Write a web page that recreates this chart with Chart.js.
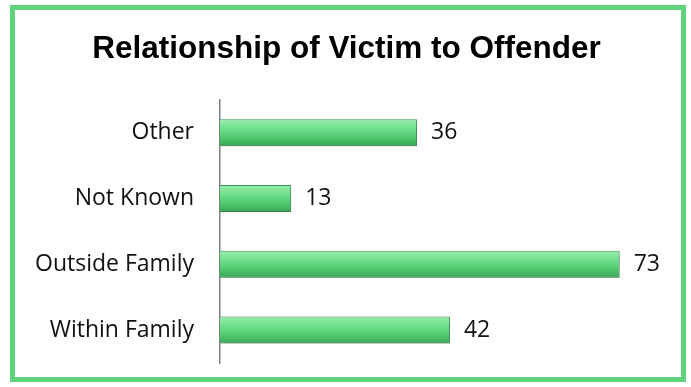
<!DOCTYPE html>
<html>
<head>
<meta charset="utf-8">
<script src="https://cdn.jsdelivr.net/npm/chart.js@4"></script>
<style>
  html, body { margin: 0; padding: 0; background: #fff; }
  #box {
    position: absolute; left: 10px; top: 5px;
    width: 666px; height: 367px;
    border: 5px solid #62d37d;
  }
</style>
</head>
<body>
<div id="box"><canvas id="chart"></canvas></div>
<script>
const categories = ["Other", "Not Known", "Outside Family", "Within Family"];
const counts = [36, 13, 73, 42];

// gradient for each bar, built from the bar's own band on the y scale
function barFill(context) {
    const chart = context.chart;
    const y = chart.scales && chart.scales.y;
    if (!y || context.dataIndex === undefined) return "#5ccf78";
    const c = y.getPixelForValue(context.dataIndex);
    if (!isFinite(c)) return "#5ccf78";
    const half = 13.5;
    const g = chart.ctx.createLinearGradient(0, c - half, 0, c + half);
    g.addColorStop(0, "#9aedae");
    g.addColorStop(0.3, "#74e290");
    g.addColorStop(0.65, "#52cc72");
    g.addColorStop(1, "#38a553");
    return g;
}

const valueLabels = {
    id: "valueLabels",
    afterDatasetsDraw(chart) {
        const ctx = chart.ctx;
        const meta = chart.getDatasetMeta(0);
        ctx.save();
        ctx.font = "23px 'Open Sans'";
        ctx.fillStyle = "#111";
        ctx.textBaseline = "middle";
        ctx.textAlign = "left";
        meta.data.forEach(function (bar, i) {
            ctx.fillText(String(counts[i]), bar.x + 14, bar.y);
        });
        ctx.restore();
    }
};

const barShadow = {
    id: "barShadow",
    beforeDatasetsDraw(chart) {
        chart.ctx.save();
        chart.ctx.shadowColor = "rgba(0,0,0,0.25)";
        chart.ctx.shadowBlur = 4;
        chart.ctx.shadowOffsetY = 2;
        chart.ctx.shadowOffsetX = 1;
    },
    afterDatasetsDraw(chart) {
        chart.ctx.restore();
    }
};

new Chart(document.getElementById("chart"), {
    type: "bar",
    data: {
        labels: categories,
        datasets: [{
            data: counts,
            backgroundColor: barFill,
            borderColor: "#3b9c55",
            borderWidth: 1,
            categoryPercentage: 1,
            barPercentage: 0.41
        }]
    },
    options: {
        indexAxis: "y",
        responsive: true,
        maintainAspectRatio: false,
        animation: false,
        layout: { padding: { left: 20, right: 23, top: 0, bottom: 14 } },
        plugins: {
            legend: { display: false },
            tooltip: { enabled: false },
            title: {
                display: true,
                text: "Relationship of Victim to Offender",
                color: "#000",
                font: { family: "'Liberation Sans', Arial", size: 31.5, weight: "bold" },
                padding: { top: 20, bottom: 32 }
            }
        },
        scales: {
            x: {
                display: false,
                min: 0,
                max: 80
            },
            y: {
                grid: { display: false, drawTicks: false },
                border: { display: true, color: "#808080", width: 1.5 },
                ticks: {
                    color: "#111",
                    padding: 26,
                    font: { family: "'Open Sans'", size: 23 }
                },
                afterFit(scale) {
                    scale.width = 185;
                    scale.paddingTop = 0;
                    scale.paddingBottom = 0;
                }
            }
        }
    },
    plugins: [barShadow, valueLabels]
});
</script>
</body>
</html>
